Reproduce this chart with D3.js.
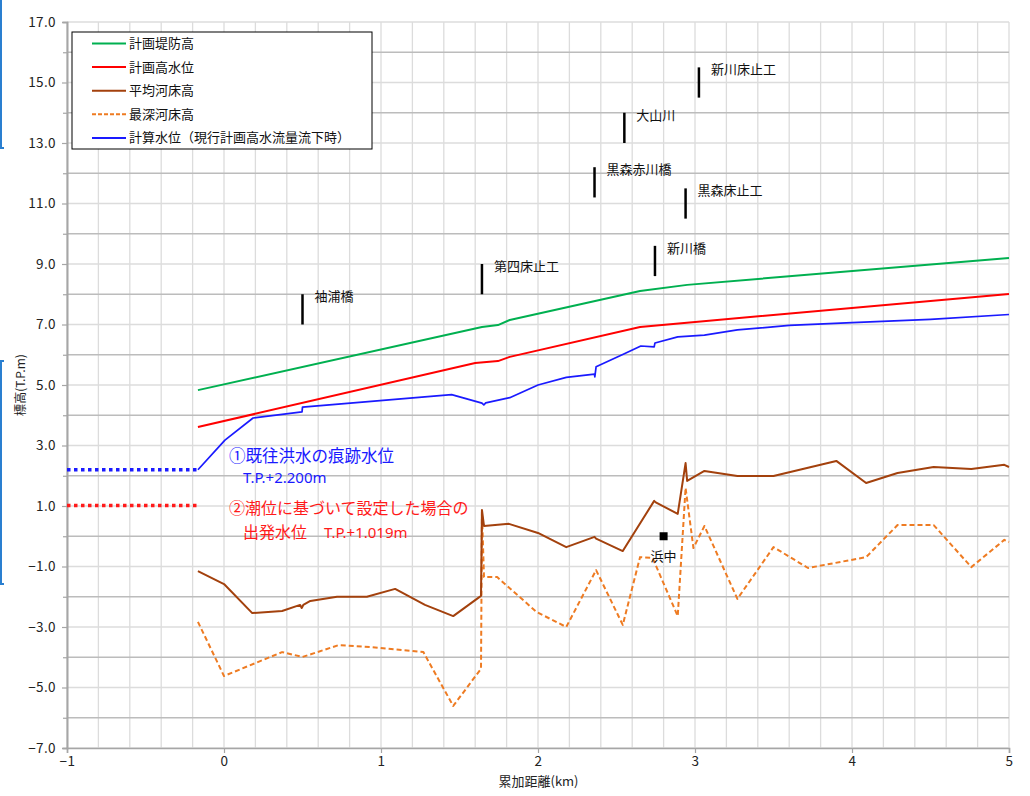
<!DOCTYPE html>
<html>
<head>
<meta charset="utf-8">
<script src="https://cdn.jsdelivr.net/npm/d3@7"></script>
<style>
  html, body { margin: 0; padding: 0; background: #fff; }
  svg { display: block; }
  text { font-family: "Noto Sans CJK JP", "Noto Sans", sans-serif; }
</style>
</head>
<body>
<svg id="chart" width="1030" height="796"></svg>
<script>
// ---- Data: longitudinal profile (cumulative distance in km, elevation in T.P. m) ----
const kmLevee = [-0.166, 1.643, 1.745, 1.82, 2.65, 2.95, 5.0];
const levee   = [4.83, 6.92, 6.98, 7.15, 8.11, 8.31, 9.20];

const kmHwl = [-0.166, 1.6, 1.745, 1.82, 2.65, 5.0];
const hwl   = [3.61, 5.73, 5.79, 5.93, 6.92, 8.01];

const kmBed = [-0.166, 0.0, 0.18, 0.37, 0.485, 0.495, 0.505, 0.55, 0.72, 0.91, 1.09, 1.28, 1.46, 1.637, 1.643, 1.656, 1.815, 2.0, 2.18, 2.36, 2.37, 2.54, 2.74, 2.75, 2.89, 2.94, 2.95, 3.06, 3.27, 3.5, 3.9, 4.09, 4.29, 4.52, 4.76, 4.97, 5.0];
const bed   = [-1.15, -1.58, -2.54, -2.47, -2.27, -2.37, -2.27, -2.14, -2.0, -2.0, -1.74, -2.27, -2.64, -1.97, 0.87, 0.34, 0.41, 0.11, -0.36, -0.02, -0.08, -0.49, 1.17, 1.12, 0.74, 2.42, 1.83, 2.16, 1.99, 1.99, 2.49, 1.76, 2.09, 2.29, 2.22, 2.36, 2.29];

const kmDeep = [-0.166, 0.0, 0.37, 0.5, 0.73, 0.93, 1.27, 1.46, 1.637, 1.643, 1.656, 1.74, 1.99, 2.18, 2.37, 2.54, 2.65, 2.73, 2.89, 2.94, 2.99, 3.06, 3.27, 3.5, 3.72, 4.09, 4.29, 4.52, 4.76, 4.97, 5.0];
const deep   = [-2.83, -4.62, -3.83, -3.99, -3.6, -3.66, -3.83, -5.61, -4.38, 0.8, -1.35, -1.35, -2.5, -3.0, -1.12, -2.93, -0.69, -0.72, -2.64, 1.6, -0.39, 0.34, -2.07, -0.36, -1.05, -0.69, 0.37, 0.37, -1.02, -0.12, -0.19];

const kmCalc = [-0.166, 0.006, 0.185, 0.497, 0.5, 1.45, 1.643, 1.655, 1.667, 1.82, 2.0, 2.18, 2.36, 2.362, 2.37, 2.55, 2.655, 2.74, 2.745, 2.89, 3.06, 3.27, 3.6, 4.0, 4.5, 5.0];
const calc   = [2.2, 3.18, 3.91, 4.11, 4.27, 4.68, 4.40, 4.34, 4.41, 4.58, 5.0, 5.25, 5.36, 5.27, 5.60, 6.03, 6.29, 6.26, 6.39, 6.59, 6.65, 6.82, 6.97, 7.06, 7.17, 7.33];

// Starting water levels at the river mouth
const startKm = [-1.0, -0.166];
const startTrace = 2.2;    // ① 既往洪水の痕跡水位
const startTide  = 1.019;  // ② 潮位に基づく出発水位

// Structures / bridges (position, top of marker)
const markerNames = ["袖浦橋", "第四床止工", "黒森赤川橋", "大山川", "新川橋", "黒森床止工", "新川床止工"];
const markerKm    = [0.5, 1.643, 2.36, 2.55, 2.745, 2.94, 3.025];
const markerTop   = [8.0, 9.0, 12.2, 14.0, 9.6, 11.5, 15.5];

// Reference point
const pointName = "浜中";
const pointKm = 2.8;
const pointVal = 0.0;

// Axis ticks
const xTicks = [-1, 0, 1, 2, 3, 4, 5];
const yTicks = [17, 15, 13, 11, 9, 7, 5, 3, 1, -1, -3, -5, -7];

// Legend entries
const seriesNames = ["計画堤防高", "計画高水位", "平均河床高", "最深河床高", "計算水位（現行計画高水流量流下時）"];
const seriesColors = ["#00b050", "#ff0000", "#a3410d", "#ee7b22", "#1a1aff"];

// ---- Layout ----
const svg = d3.select("#chart");
const L = 67, R = 1009, T = 22, B = 748;
const x = d3.scaleLinear().domain([-1, 5]).range([L, R]);
const y = d3.scaleLinear().domain([-7, 17]).range([B, T]);

// Decorative frame edges at the left border
const frame = svg.append("g").attr("stroke", "#2a7fd0").attr("stroke-width", 2).attr("fill", "none");
frame.append("path").attr("d", "M1,0 V148 H4");
frame.append("path").attr("d", "M4,361 H1 V584 H4");

// Grid
const grid = svg.append("g");
d3.range(-1, 5.0001, 0.2).forEach(v => {
  grid.append("line")
    .attr("x1", x(v)).attr("x2", x(v)).attr("y1", T).attr("y2", B)
    .attr("stroke", "#dcdcdc").attr("stroke-width", 1.3);
});
d3.range(-7, 17.0001, 1).forEach(v => {
  const even = Math.round(v) % 2 === 0;
  grid.append("line")
    .attr("x1", L).attr("x2", R).attr("y1", y(v)).attr("y2", y(v))
    .attr("stroke", even ? "#bcbcbc" : "#dcdcdc").attr("stroke-width", 1.3);
});

// Axes
const fmtY = d3.format(".1f");
const yAxis = d3.axisLeft(y).tickValues(yTicks).tickSize(5).tickPadding(6).tickFormat(fmtY);
const yMinor = d3.axisLeft(y).tickValues(d3.range(-6, 17, 2)).tickSize(4).tickFormat("");
const xAxis = d3.axisBottom(x).tickValues(xTicks).tickSize(5).tickPadding(3).tickFormat(d3.format("d"));

function styleAxis(g) {
  g.select(".domain").attr("stroke", "#a6a6a6").attr("stroke-width", 1.6);
  g.selectAll(".tick line").attr("stroke", "#a6a6a6").attr("stroke-width", 1.2);
  g.selectAll(".tick text").attr("fill", "#222").style("font-size", "13.5px")
    .style("letter-spacing", "0.4px")
    .style("font-family", "'Noto Sans CJK JP', sans-serif");
}
svg.append("g").attr("transform", `translate(${L},0)`).call(yMinor).call(styleAxis);
svg.append("g").attr("transform", `translate(${L},0)`).call(yAxis).call(styleAxis);
svg.append("g").attr("transform", `translate(0,${B})`).call(xAxis).call(styleAxis);

// Axis titles
svg.append("text")
  .attr("x", (L + R) / 2 + 0.5).attr("y", 786)
  .attr("text-anchor", "middle").style("font-size", "13px").attr("fill", "#222")
  .text("累加距離(km)");
svg.append("text")
  .attr("transform", `translate(25,${(T + B) / 2}) rotate(-90)`)
  .attr("text-anchor", "middle").style("font-size", "12px").attr("fill", "#222")
  .text("標高(T.P.m)");

// Series lines
const line = d3.line().x(d => x(d[0])).y(d => y(d[1]));
const plot = svg.append("g").attr("fill", "none").attr("stroke-linejoin", "round");

plot.append("path").datum(d3.zip(kmDeep, deep)).attr("d", line)
  .attr("stroke", seriesColors[3]).attr("stroke-width", 2).attr("stroke-dasharray", "5,3");
plot.append("path").datum(d3.zip(kmBed, bed)).attr("d", line)
  .attr("stroke", seriesColors[2]).attr("stroke-width", 2);
plot.append("path").datum(d3.zip(kmLevee, levee)).attr("d", line)
  .attr("stroke", seriesColors[0]).attr("stroke-width", 2);
plot.append("path").datum(d3.zip(kmHwl, hwl)).attr("d", line)
  .attr("stroke", seriesColors[1]).attr("stroke-width", 2);
plot.append("path").datum(d3.zip(kmCalc, calc)).attr("d", line)
  .attr("stroke", seriesColors[4]).attr("stroke-width", 1.7);

// Starting water level dotted lines
plot.append("path").datum(startKm.map(k => [k, startTrace])).attr("d", line)
  .attr("stroke", "#1a1aff").attr("stroke-width", 3.5).attr("stroke-dasharray", "3.5,3.5");
plot.append("path").datum(startKm.map(k => [k, startTide])).attr("d", line)
  .attr("stroke", "#ff1a1a").attr("stroke-width", 3.5).attr("stroke-dasharray", "3.5,3.5");

// Structure markers
const mk = svg.append("g");
markerNames.forEach((name, i) => {
  mk.append("line")
    .attr("x1", x(markerKm[i])).attr("x2", x(markerKm[i]))
    .attr("y1", y(markerTop[i])).attr("y2", y(markerTop[i] - 1))
    .attr("stroke", "#000").attr("stroke-width", 2.5);
  mk.append("text")
    .attr("x", x(markerKm[i]) + 12).attr("y", y(markerTop[i]) + 7)
    .style("font-size", "13px").attr("fill", "#111")
    .text(name);
});

// Reference point
svg.append("rect")
  .attr("x", x(pointKm) - 4).attr("y", y(pointVal) - 4)
  .attr("width", 8).attr("height", 8).attr("fill", "#000");
svg.append("text")
  .attr("x", x(pointKm)).attr("y", y(pointVal) + 25)
  .attr("text-anchor", "middle").style("font-size", "13px").attr("fill", "#111")
  .text(pointName);

// Annotations for starting water levels
const ann = svg.append("g");
function levelText(xPos, yPos, color, str) {
  ann.append("text").attr("x", xPos).attr("y", yPos).attr("fill", color)
    .style("font-family", "'Noto Sans', 'Liberation Sans', sans-serif")
    .style("font-size", "15px")
    .text(str);
}
ann.append("text").attr("x", 229).attr("y", 462).attr("fill", "#1a1aff")
  .style("font-size", "16.5px").text("①既往洪水の痕跡水位");
levelText(243, 483, "#1a1aff", "T.P.+" + startTrace.toFixed(3) + "m");
ann.append("text").attr("x", 229).attr("y", 514).attr("fill", "#ff1a1a")
  .style("font-size", "16px").text("②潮位に基づいて設定した場合の");
ann.append("text").attr("x", 243).attr("y", 538).attr("fill", "#ff1a1a")
  .style("font-size", "16px").text("出発水位");
levelText(324, 538, "#ff1a1a", "T.P.+" + startTide.toFixed(3) + "m");

// Legend
const lg = svg.append("g").attr("transform", "translate(72,32)");
lg.append("rect").attr("x", 0).attr("y", 0).attr("width", 300).attr("height", 117)
  .attr("fill", "#fff").attr("stroke", "#000").attr("stroke-width", 1);
seriesNames.forEach((name, i) => {
  const yy = 11.5 + i * 23.6;
  lg.append("line").attr("x1", 20).attr("x2", 54).attr("y1", yy).attr("y2", yy)
    .attr("stroke", seriesColors[i]).attr("stroke-width", 2)
    .attr("stroke-dasharray", i === 3 ? "4,2" : null);
  lg.append("text").attr("x", 57).attr("y", yy + 4.5)
    .style("font-size", "13px").attr("fill", "#111").text(name);
});
</script>
</body>
</html>
